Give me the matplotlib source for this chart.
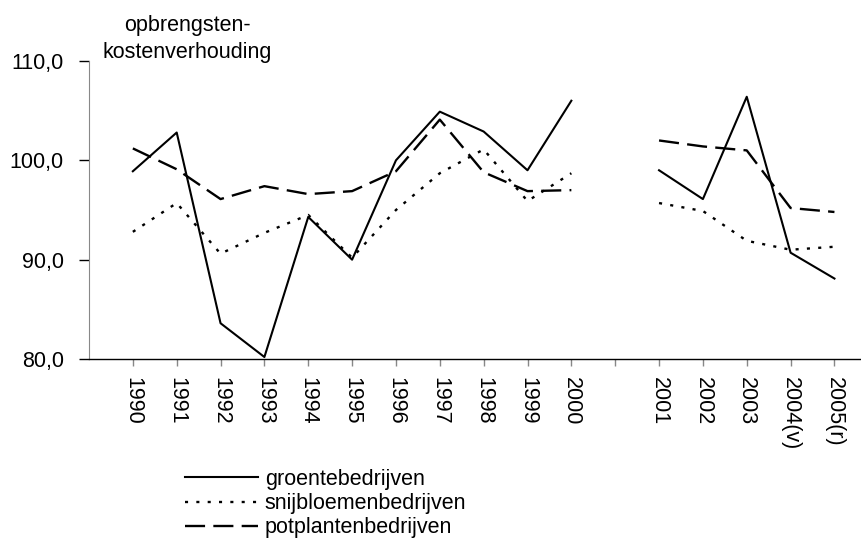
import numpy as np
import matplotlib.pyplot as plt

plt.rcParams['font.family'] = ['Liberation Sans', 'DejaVu Sans']

# jaren; tussen 2000 en 2001 staat een lege plek op de as
years = ['1990', '1991', '1992', '1993', '1994', '1995', '1996', '1997',
         '1998', '1999', '2000', '2001', '2002', '2003', '2004(v)', '2005(r)']

groente = [98.9, 102.8, 83.6, 80.2, 94.3, 90.0, 100.0, 104.9, 102.9, 99.0, 106.0,
           99.0, 96.1, 106.4, 90.7, 88.1]
snijbloemen = [92.8, 95.7, 90.6, 92.7, 94.5, 90.2, 95.0, 98.7, 101.1, 95.9, 98.7,
               95.7, 94.9, 91.9, 91.0, 91.3]
potplanten = [101.2, 99.1, 96.1, 97.4, 96.6, 96.9, 98.9, 104.1, 98.8, 96.9, 97.0,
              102.0, 101.4, 101.0, 95.2, 94.8]

gap = 11  # lege categorie
labels = years[:gap] + [''] + years[gap:]
x = np.arange(len(labels))


def with_gap(vals):
    # NaN op de lege plek zodat de lijn onderbroken wordt
    return np.insert(np.array(vals, dtype=float), gap, np.nan)


fs = 15.5

fig = plt.figure(figsize=(8.62, 5.45), dpi=100)
ax = fig.add_axes([89 / 862, 1 - 359 / 545, 1 - 89 / 862, (359 - 61) / 545])

ax.plot(x, with_gap(groente), color='black', lw=1.5, ls='-', label='groentebedrijven')
ax.plot(x, with_gap(snijbloemen), color='black', lw=1.7, ls=(0, (1.3, 3.5)),
        label='snijbloemenbedrijven')
ax.plot(x, with_gap(potplanten), color='black', lw=1.7, ls=(0, (8.5, 3.5)),
        label='potplantenbedrijven')

ax.set_xlim(-1, -1 + 773 / 43.85)
ax.set_ylim(80, 110)
ax.set_yticks([80, 90, 100, 110])
ax.set_yticklabels(['80,0', '90,0', '100,0', '110,0'], fontsize=fs)
ax.set_xticks(x)
ax.set_xticklabels(labels, rotation=270, fontsize=fs, va='top', ha='center')

for s in ['top', 'right']:
    ax.spines[s].set_visible(False)
ax.spines['left'].set_color('#888888')
ax.spines['bottom'].set_linewidth(1.0)
ax.tick_params(axis='y', length=7, width=1, direction='out', pad=11, colors='black')
ax.tick_params(axis='x', length=5, width=1, direction='out', pad=8, color='#888888')

fig.text(187 / 862, 1 - 39 / 545, 'opbrengsten-\nkostenverhouding', ha='center',
         va='center', fontsize=fs, linespacing=1.4)

fig.legend(loc='upper left', bbox_to_anchor=(185 / 862, 1 - 469 / 545), frameon=False,
           fontsize=fs, handlelength=3.4, handletextpad=0.3, labelspacing=0.15,
           borderpad=0, borderaxespad=0)

fig.savefig('out.png', dpi=100)
